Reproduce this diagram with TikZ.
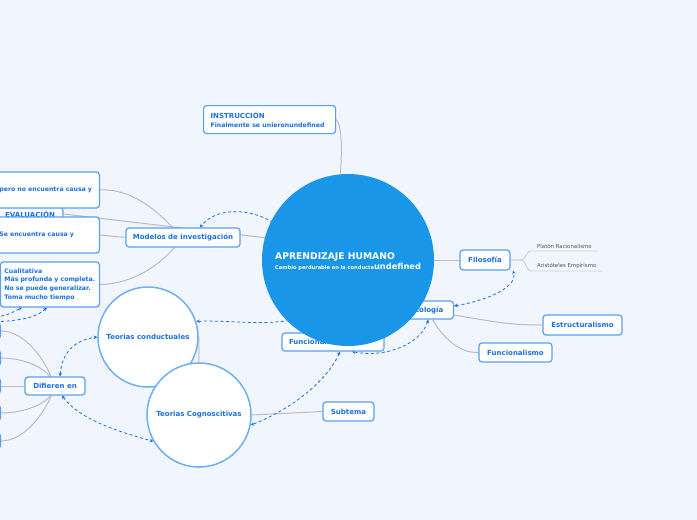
\documentclass[tikz,border=0pt]{standalone}
\usepackage{fontspec}
\setmainfont{DejaVu Sans}
\usetikzlibrary{arrows.meta,backgrounds}

\definecolor{mapbg}{RGB}{241,245,254}
\definecolor{topicblue}{RGB}{27,111,222}
\definecolor{frameblue}{RGB}{88,160,238}
\definecolor{bubbleblue}{RGB}{112,176,240}
\definecolor{centralblue}{RGB}{26,150,232}
\definecolor{linegray}{RGB}{188,188,190}
\definecolor{leafgray}{RGB}{85,85,90}

\tikzset{
  topic/.style={draw=frameblue, line width=1.2pt, fill=white, rounded corners=3pt, text=topicblue,
    font=\fontsize{7}{8.7}\selectfont\bfseries, inner sep=0pt, minimum height=19pt},
  sidetopic/.style={topic, font=\fontsize{6.2}{8.7}\selectfont\bfseries},
  bubble/.style={circle, draw=bubbleblue, line width=1.5pt, fill=white, text=topicblue,
    font=\fontsize{7}{8.7}\selectfont\bfseries, inner sep=0pt, minimum size=100pt},
  leaf/.style={text=leafgray, font=\fontsize{5.4}{6}\selectfont, inner xsep=6pt, inner ysep=2.5pt},
  branch/.style={draw=linegray, line width=1pt},
  leafline/.style={draw=linegray!70, line width=0.9pt},
  link/.style={draw=topicblue, line width=0.8pt, dash pattern=on 3pt off 2.5pt,
    {Stealth[length=3.5pt,width=3.5pt]}-{Stealth[length=3.5pt,width=3.5pt]}}
}

\begin{document}
\begin{tikzpicture}[x=1pt,y=-1pt]
\useasboundingbox (0,0) rectangle (697,520);
\begin{scope}[on background layer]
\fill[mapbg] (0,0) rectangle (697,520);
\end{scope}

% left column
\node[topic, minimum width=66pt, minimum height=13pt] (eval) at (30,214) {EVALUACIÓN};
\node[sidetopic, anchor=east, text width=96pt, align=left, inner xsep=4pt, minimum height=36pt] (pero) at (100,190) {pero no encuentra causa y};
\node[sidetopic, anchor=east, text width=96pt, align=left, inner xsep=4pt, minimum height=36pt] (se) at (100,235) {Se encuentra causa y};
\node[sidetopic, anchor=east, text width=91pt, align=left, inner xsep=4pt, minimum height=45pt] (cual) at (100,284.5) {Cualitativa\\Más profunda y completa.\\No se puede generalizar.\\Toma mucho tiempo};
\node[topic, minimum width=114pt] (modelos) at (183,237.5) {Modelos de investigación};

\foreach \i/\y in {1/331,2/358,3/386,4/413,5/441}
  \node[topic, anchor=east, minimum width=40pt, minimum height=16pt] (d\i) at (1,\y) {};
\node[topic, minimum width=60pt, minimum height=18pt] (difieren) at (55,386) {Difieren en};

\node[bubble] (conduct) at (148,337) {Teorias conductuales};
\node[bubble, minimum size=104pt] (cognos) at (199,415) {Teorias Cognoscitivas};
\node[topic, minimum width=51pt] (subtema) at (348.5,411.5) {Subtema};

% top and right
\node[topic, anchor=north west, text width=118pt, align=left, inner xsep=7pt, minimum height=28pt] (instr) at (203,105) {INSTRUCCIÓN\\\mbox{\fontsize{6.2}{8}\selectfont Finalmente se unieronundefined}};
\node[topic, minimum width=50pt, minimum height=20pt] (filosofia) at (485,260) {Filosofía};
\node[leaf, anchor=south west] (platon) at (531,251) {Platón Racionalismo};
\node[leaf, anchor=south west] (aristoteles) at (531,271) {Aristóteles Empirismo};
\node[topic, anchor=east, minimum width=60pt, minimum height=18pt] (psicologia) at (454,310) {Psicología};
\node[topic, text width=88pt, align=left, inner xsep=7pt, minimum height=18pt] (functeoria) at (333,342) {Funcionalismo};
\node[topic, minimum width=79pt, minimum height=20pt] (estruct) at (582.5,325) {Estructuralismo};
\node[topic, minimum width=73pt] (funcional) at (515.5,352.5) {Funcionalismo};

% central topic
\node[circle, fill=centralblue, minimum size=172pt, inner sep=0pt] (central) at (348,260) {};
\node[anchor=base west, text=white, inner sep=0pt, font=\fontsize{9.2}{10}\selectfont\bfseries] (ctitle) at (275,259) {APRENDIZAJE HUMANO};
\node[anchor=base west, text=white, inner sep=0pt] (csub) at (275,269) {{\fontsize{5.1}{6}\selectfont\bfseries Cambio perdurable en la conducta}{\fontsize{8.3}{10}\selectfont\bfseries undefined}};

\coordinate (offa) at (-12,317);
\coordinate (offb) at (-12,322);

\begin{scope}[on background layer]
\draw[branch] (instr.east) .. controls (342,125) and (342,150) .. (central.95);
\draw[branch] (eval.east) -- (central.165);
\draw[branch] (pero.east) .. controls (132,188) and (160,212) .. (182,238);
\draw[branch] (se.east) -- (modelos.west);
\draw[branch] (cual.east) .. controls (135,284) and (165,262) .. (182,238);
\draw[branch] (d1.east) .. controls (25,331) and (45,360) .. (52,379);
\draw[branch] (d2.east) .. controls (25,358) and (45,368) .. (52,379);
\draw[branch] (d3.east) -- (difieren.west);
\draw[branch] (d4.east) .. controls (25,413) and (45,404) .. (52,394);
\draw[branch] (d5.east) .. controls (25,441) and (45,412) .. (52,394);
\draw[branch] (conduct.east) -- (cognos.north);
\draw[branch] (cognos.east) -- (subtema.west);
\draw[branch] (central.east) -- (filosofia.west);
\draw[leafline] (filosofia.east) -- (521,260) .. controls (526,260) and (526,251) .. (platon.south west) -- (platon.south east);
\draw[leafline] (filosofia.east) -- (521,260) .. controls (526,260) and (526,271) .. (aristoteles.south west) -- (aristoteles.south east);
\draw[branch] ([yshift=-5pt]psicologia.east) .. controls (495,322) and (510,325) .. (estruct.west);
\draw[branch] ([xshift=9pt]psicologia.south) .. controls (445,340) and (460,353) .. (funcional.west);

\draw[link, shorten <=-10pt] (central.153) .. controls (250,206) and (215,208) .. ([xshift=17pt]modelos.north);
\draw[link] (offa) .. controls (5,316) .. ([xshift=-28pt]cual.south);
\draw[link] (offb) .. controls (25,321) and (38,316) .. ([xshift=-3pt]cual.south);
\draw[link] ([xshift=5pt]difieren.north) .. controls (62,352) and (75,340) .. (conduct.west);
\draw[link] ([xshift=7pt]difieren.south) .. controls (80,420) and (120,432) .. (cognos.210);
\draw[link, shorten <=-10pt] (central.225) .. controls (262,326) and (230,320) .. (conduct.18);
\draw[link] ([yshift=4pt]psicologia.east) .. controls (490,300) and (518,286) .. ([xshift=28pt]filosofia.south);
\draw[link] ([xshift=5pt]psicologia.south) .. controls (420,345) and (385,358) .. ([xshift=19pt]functeoria.south);
\draw[link] ([xshift=7pt]functeoria.south) .. controls (325,385) and (285,412) .. (cognos.-11);
\end{scope}
\end{tikzpicture}
\end{document}
